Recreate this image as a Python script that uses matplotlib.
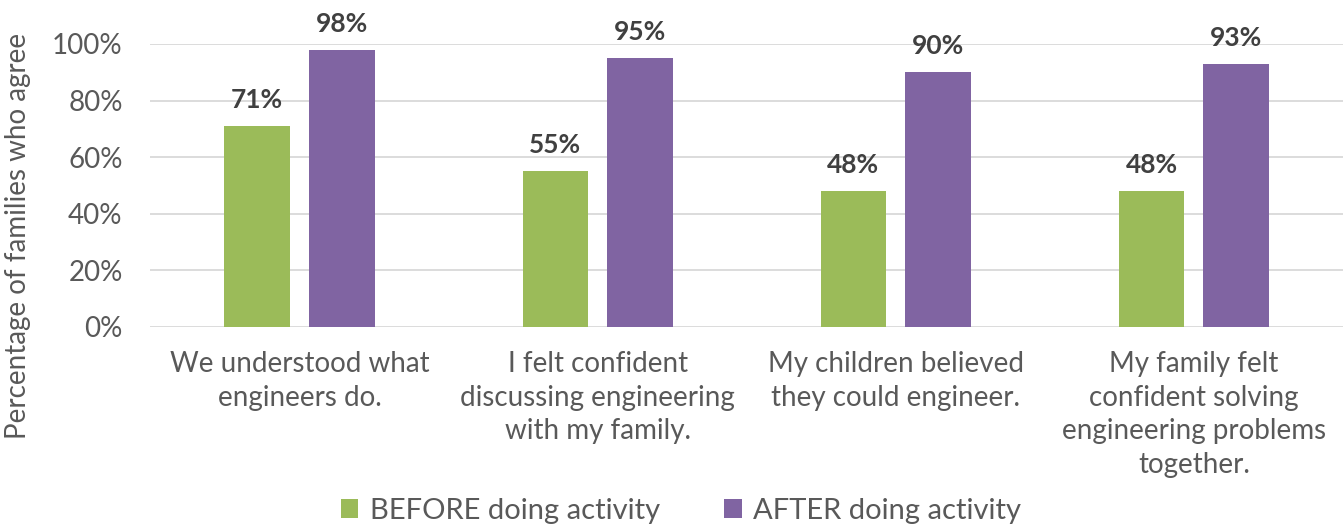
import numpy as np
from matplotlib import pyplot as plt

categories = ["We understood what\nengineers do.",
              "I felt confident\ndiscussing engineering\nwith my family.",
              "My children believed\nthey could engineer.",
              "My family felt\nconfident solving\nengineering problems\ntogether."]
before = [71, 55, 48, 48]
after = [98, 95, 90, 93]
series_names = ["BEFORE doing activity", "AFTER doing activity"]

plt.rcParams['font.family'] = ['Lato', 'DejaVu Sans']
text_col = '#595959'

fig = plt.figure(figsize=(13.43, 5.29), dpi=100)
ax = fig.add_axes([0.112, 0.382, 0.888, 0.535])

x = np.arange(len(categories))
w = 0.22
off = 0.142
b1 = ax.bar(x - off, before, w, color='#9BBB59', label=series_names[0], zorder=3)
b2 = ax.bar(x + off, after, w, color='#8064A2', label=series_names[1], zorder=3)

# data labels above bars
for bars, vals in [(b1, before), (b2, after)]:
    for r, v in zip(bars, vals):
        ax.annotate(f"{v}%", (r.get_x() + r.get_width() / 2, v),
                    xytext=(0, 10), textcoords='offset points',
                    ha='center', va='bottom', fontsize=19, fontweight='bold',
                    color='#404040', annotation_clip=False)

ax.set_xlim(-0.5, 3.5)
ax.set_ylim(0, 100)
ax.set_yticks(range(0, 101, 20))
ax.set_yticklabels([f"{t}%" for t in range(0, 101, 20)])
ax.yaxis.grid(True, color='#D9D9D9', linewidth=1.3, zorder=0)
ax.set_xticks(x)
ax.set_xticklabels(categories, linespacing=1.38)
ax.tick_params(axis='both', length=0, labelsize=20, labelcolor=text_col)
ax.tick_params(axis='x', pad=17)
ax.tick_params(axis='y', pad=20)
for s in ax.spines.values():
    s.set_visible(False)

ax.set_ylabel("Percentage of families who agree", fontsize=20, color=text_col)
ax.yaxis.set_label_coords(-0.1, 0.32)

fig.legend(handles=[b1, b2], loc='lower center', bbox_to_anchor=(0.507, -0.04),
           ncol=2, frameon=False, fontsize=21, labelcolor=text_col,
           handlelength=0.6, handleheight=0.6, columnspacing=2.2, handletextpad=0.4)

plt.savefig('out.png', dpi=100)
